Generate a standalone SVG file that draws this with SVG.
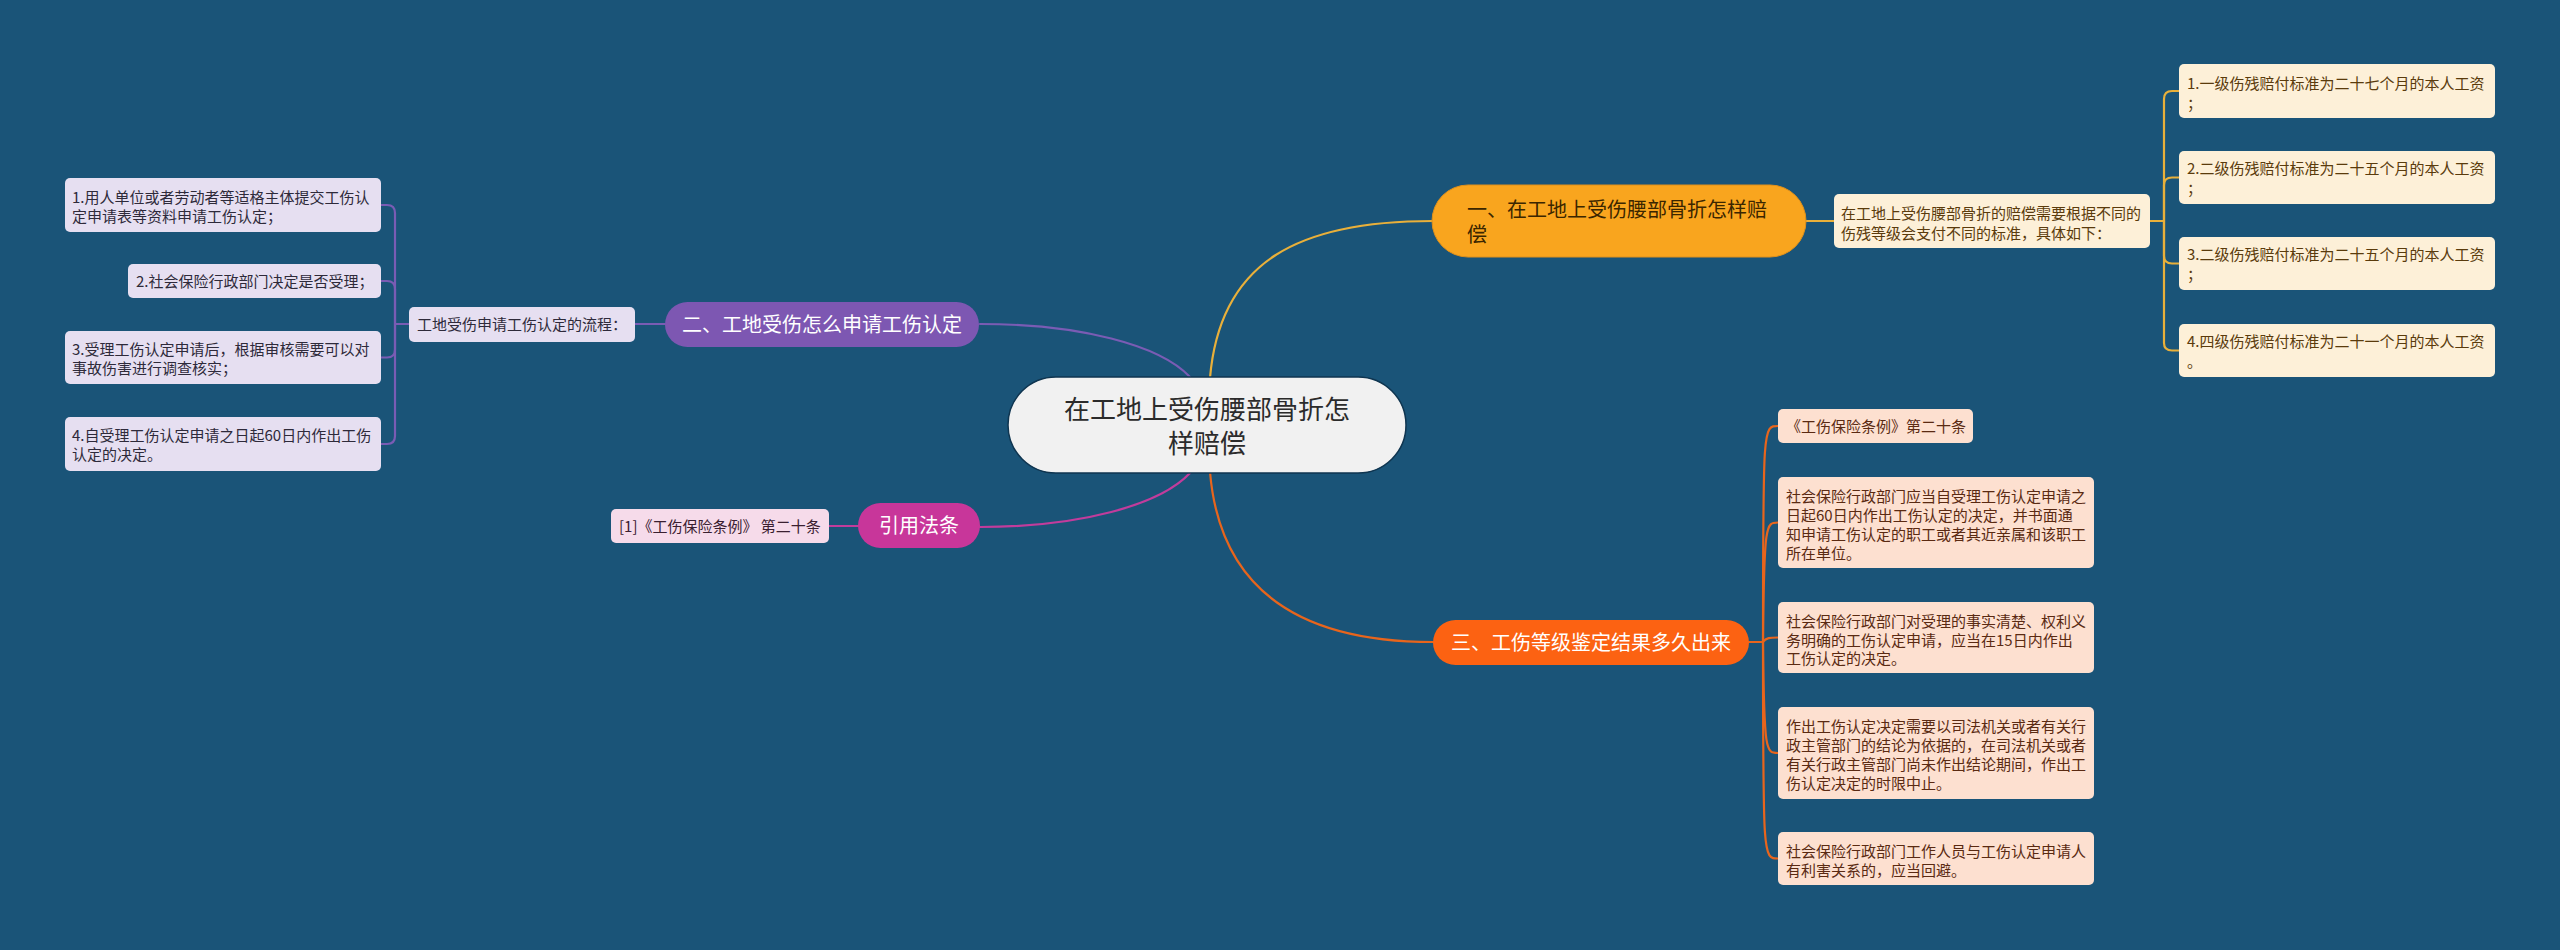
<svg xmlns="http://www.w3.org/2000/svg" width="2560" height="950" viewBox="0 0 2560 950">
<style>
text{font-family:"Noto Sans CJK SC","Liberation Sans",sans-serif;}
.t15{font-size:15px;}
.t20{font-size:20px;}
.root{fill:#f1f1f1;stroke:#0f3550;stroke-width:1.5;}
.roott{font-size:26px;fill:#2b2b2b;text-anchor:middle;}
.y-main{fill:#f9a51e;stroke:#e0901a;stroke-width:1;}
.y-box{fill:#fdf0d8;}
.y-t{fill:#5a3b0c;}
.p-main{fill:#7d57b2;}
.p-box{fill:#e6dff1;}
.p-t{fill:#2e2a3a;}
.m-main{fill:#c8369a;}
.m-box{fill:#f6dbea;}
.m-t{fill:#3a2030;}
.o-main{fill:#fc6212;}
.o-box{fill:#fde0d0;}
.o-t{fill:#5a2a12;}
.wt{fill:#ffffff;text-anchor:middle;}
.c{fill:none;stroke-width:2.2;stroke-linecap:round;}
.cy{stroke:#e9b03a;}
.cp{stroke:#7a5cb4;}
.cm{stroke:#c23c9c;}
.co{stroke:#e8651c;}
</style>
<rect width="2560" height="950" fill="#1a5478"/>

<g id="connectors">
  <path class="c cy" d="M1210,378 C1220,260 1300,221 1433,221"/>
  <path class="c co" d="M1210,472 C1220,590 1300,642 1433,642"/>
  <path class="c cp" d="M1190,377 C1160,345 1080,324 980,324"/>
  <path class="c cm" d="M1190,473 C1160,505 1080,527 980,527"/>
  <path class="c cy" d="M1806,221 L1834,221"/>
  <path class="c cy" d="M2150,221 L2164,221"/>
  <path class="c cy" d="M2164,221 L2164,99 Q2164,91 2172,91 L2179,91"/>
  <path class="c cy" d="M2164,221 L2164,185 Q2164,177.5 2172,177.5 L2179,177.5"/>
  <path class="c cy" d="M2164,221 L2164,256 Q2164,263.5 2172,263.5 L2179,263.5"/>
  <path class="c cy" d="M2164,221 L2164,343 Q2164,350.5 2172,350.5 L2179,350.5"/>
  <path class="c cp" d="M665,324 L635,324"/>
  <path class="c cp" d="M409,324 L395,324"/>
  <path class="c cp" d="M395,324 L395,213 Q395,205 387,205 L381,205"/>
  <path class="c cp" d="M395,324 L395,289 Q395,281 387,281 L381,281"/>
  <path class="c cp" d="M395,324 L395,349.5 Q395,357.5 387,357.5 L381,357.5"/>
  <path class="c cp" d="M395,324 L395,436 Q395,444 387,444 L381,444"/>
  <path class="c cm" d="M858,526 L829,526"/>
  <path class="c co" d="M1749,642 L1763,642"/>
  <path class="c co" d="M1763,642 C1763,426 1763,426 1778,426"/>
  <path class="c co" d="M1763,642 C1764,522.5 1766,522.5 1778,522.5"/>
  <path class="c co" d="M1763,642 C1766,637.5 1770,637.5 1778,637.5"/>
  <path class="c co" d="M1763,642 C1764,753 1766,753 1778,753"/>
  <path class="c co" d="M1763,642 C1763,858.5 1763,858.5 1778,858.5"/>
</g>

<g id="root">
  <rect class="root" x="1008" y="377" width="398" height="96" rx="48"/>
  <text class="roott" x="1207" y="418.5">在工地上受伤腰部骨折怎</text>
  <text class="roott" x="1207" y="452.5">样赔偿</text>
</g>

<g id="n1">
  <rect class="y-main" x="1432" y="185" width="374" height="72" rx="36"/>
  <text class="t20" x="1467" y="217" fill="#3b2600">一、在工地上受伤腰部骨折怎样赔</text>
  <text class="t20" x="1467" y="242" fill="#3b2600">偿</text>
</g>
<g id="n1-desc">
  <rect class="y-box" x="1834" y="194" width="316" height="54" rx="5"/>
  <text class="t15 y-t" x="1841" y="218.5">在工地上受伤腰部骨折的赔偿需要根据不同的</text>
  <text class="t15 y-t" x="1841" y="238.5">伤残等级会支付不同的标准，具体如下：</text>
</g>
<g id="n1-c1">
  <rect class="y-box" x="2179" y="64" width="316" height="54" rx="5"/>
  <text class="t15 y-t" x="2187" y="88.5">1.一级伤残赔付标准为二十七个月的本人工资</text>
  <text class="t15 y-t" x="2187" y="108.5">；</text>
</g>
<g id="n1-c2">
  <rect class="y-box" x="2179" y="151" width="316" height="53" rx="5"/>
  <text class="t15 y-t" x="2187" y="173.5">2.二级伤残赔付标准为二十五个月的本人工资</text>
  <text class="t15 y-t" x="2187" y="193.5">；</text>
</g>
<g id="n1-c3">
  <rect class="y-box" x="2179" y="237" width="316" height="53" rx="5"/>
  <text class="t15 y-t" x="2187" y="259.5">3.二级伤残赔付标准为二十五个月的本人工资</text>
  <text class="t15 y-t" x="2187" y="279.5">；</text>
</g>
<g id="n1-c4">
  <rect class="y-box" x="2179" y="324" width="316" height="53" rx="5"/>
  <text class="t15 y-t" x="2187" y="346.5">4.四级伤残赔付标准为二十一个月的本人工资</text>
  <text class="t15 y-t" x="2187" y="366.5">。</text>
</g>

<g id="n2">
  <rect class="p-main" x="665" y="302" width="314" height="45" rx="22.5"/>
  <text class="t20 wt" x="822" y="331.5">二、工地受伤怎么申请工伤认定</text>
</g>
<g id="n2-mid">
  <rect class="p-box" x="409" y="307" width="226" height="35" rx="5"/>
  <text class="t15 p-t" x="417" y="330">工地受伤申请工伤认定的流程：</text>
</g>
<g id="n2-c1">
  <rect class="p-box" x="65" y="178" width="316" height="54" rx="5"/>
  <text class="t15 p-t" x="72" y="202.5">1.用人单位或者劳动者等适格主体提交工伤认</text>
  <text class="t15 p-t" x="72" y="221.5">定申请表等资料申请工伤认定；</text>
</g>
<g id="n2-c2">
  <rect class="p-box" x="128" y="264" width="253" height="34" rx="5"/>
  <text class="t15 p-t" x="136" y="286.5">2.社会保险行政部门决定是否受理；</text>
</g>
<g id="n2-c3">
  <rect class="p-box" x="65" y="331" width="316" height="53" rx="5"/>
  <text class="t15 p-t" x="72" y="354.5">3.受理工伤认定申请后，根据审核需要可以对</text>
  <text class="t15 p-t" x="72" y="373.5">事故伤害进行调查核实；</text>
</g>
<g id="n2-c4">
  <rect class="p-box" x="65" y="417" width="316" height="54" rx="5"/>
  <text class="t15 p-t" x="72" y="440.5">4.自受理工伤认定申请之日起60日内作出工伤</text>
  <text class="t15 p-t" x="72" y="459.5">认定的决定。</text>
</g>

<g id="n4">
  <rect class="m-main" x="858" y="503" width="122" height="45" rx="22.5"/>
  <text class="t20 wt" x="919" y="533">引用法条</text>
</g>
<g id="n4-c1">
  <rect class="m-box" x="611" y="509" width="218" height="34" rx="5"/>
  <text class="t15 m-t" x="619" y="531.5">[1]《工伤保险条例》 第二十条</text>
</g>

<g id="n3">
  <rect class="o-main" x="1433" y="620" width="316" height="45" rx="22.5"/>
  <text class="t20 wt" x="1591" y="649.5">三、工伤等级鉴定结果多久出来</text>
</g>
<g id="n3-c1">
  <rect class="o-box" x="1778" y="409" width="195" height="34" rx="5"/>
  <text class="t15 o-t" x="1786" y="431.5">《工伤保险条例》第二十条</text>
</g>
<g id="n3-c2">
  <rect class="o-box" x="1778" y="477" width="316" height="91" rx="5"/>
  <text class="t15 o-t" x="1786" y="502">社会保险行政部门应当自受理工伤认定申请之</text>
  <text class="t15 o-t" x="1786" y="521">日起60日内作出工伤认定的决定，并书面通</text>
  <text class="t15 o-t" x="1786" y="540">知申请工伤认定的职工或者其近亲属和该职工</text>
  <text class="t15 o-t" x="1786" y="559">所在单位。</text>
</g>
<g id="n3-c3">
  <rect class="o-box" x="1778" y="602" width="316" height="71" rx="5"/>
  <text class="t15 o-t" x="1786" y="627">社会保险行政部门对受理的事实清楚、权利义</text>
  <text class="t15 o-t" x="1786" y="645.5">务明确的工伤认定申请，应当在15日内作出</text>
  <text class="t15 o-t" x="1786" y="664">工伤认定的决定。</text>
</g>
<g id="n3-c4">
  <rect class="o-box" x="1778" y="707" width="316" height="92" rx="5"/>
  <text class="t15 o-t" x="1786" y="732">作出工伤认定决定需要以司法机关或者有关行</text>
  <text class="t15 o-t" x="1786" y="751">政主管部门的结论为依据的，在司法机关或者</text>
  <text class="t15 o-t" x="1786" y="770">有关行政主管部门尚未作出结论期间，作出工</text>
  <text class="t15 o-t" x="1786" y="789">伤认定决定的时限中止。</text>
</g>
<g id="n3-c5">
  <rect class="o-box" x="1778" y="832" width="316" height="53" rx="5"/>
  <text class="t15 o-t" x="1786" y="857">社会保险行政部门工作人员与工伤认定申请人</text>
  <text class="t15 o-t" x="1786" y="875.5">有利害关系的，应当回避。</text>
</g>
</svg>
